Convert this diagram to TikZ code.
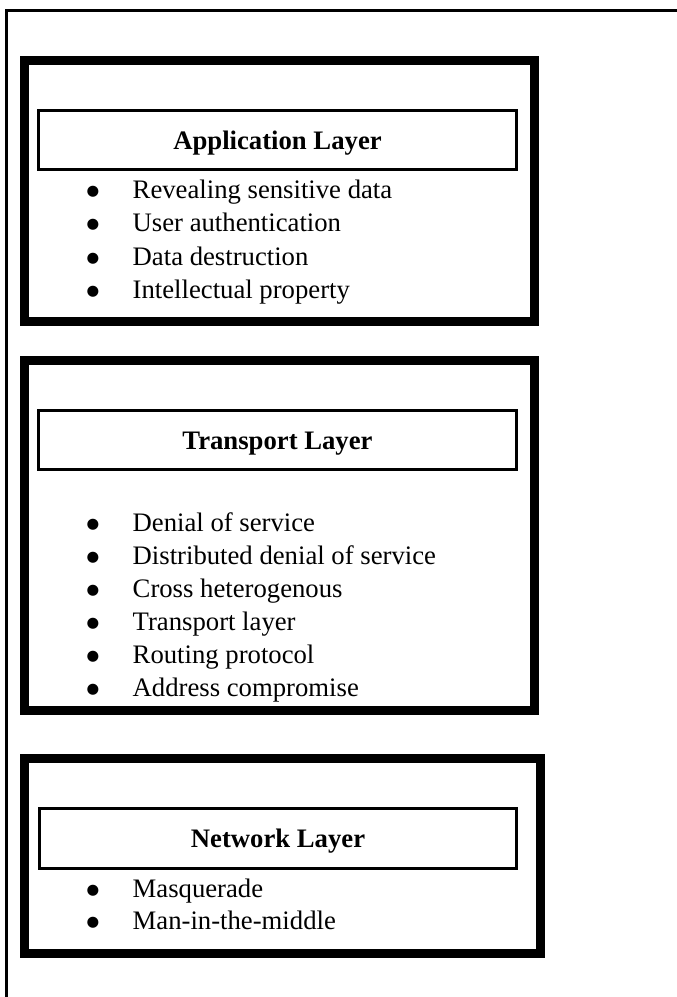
\documentclass[tikz,border=0pt]{standalone}
\usepackage{fontspec}
\setmainfont{Liberation Serif}
\newfontfamily\dotfont{DejaVu Sans}
\newcommand{\bodysize}{\fontsize{26.7}{33}\selectfont}
\newcommand{\bul}[1]{\makebox[46pt][l]{\dotfont\fontsize{14.5}{14.5}\selectfont\raisebox{3pt}{●}}#1}
\tikzstyle{layer} = [draw, line width=9pt, inner sep=0pt]
\tikzstyle{heading} = [draw, line width=3pt, inner sep=0pt, text height=18.5pt, text depth=0pt,
                       font=\bodysize\bfseries]
\tikzstyle{item} = [anchor=base west, inner sep=0pt, font=\bodysize]

\begin{document}
\begin{tikzpicture}[x=1pt, y=-1pt]
    \useasboundingbox (0,0) rectangle (677,997);
    % page frame, runs off the right and bottom edges
    \draw[line width=3pt] (6.5,997) -- (6.5,10.5) -- (677,10.5);

    % application layer
    \node[layer, minimum width=510, minimum height=261] (app) at (279.5,191) {};
    \node[heading, minimum width=478, minimum height=59] (apphead) at (277.5,140) {Application Layer};
    \node[item] (app1) at (86.5,198) {\bul{Revealing sensitive data}};
    \node[item] (app2) at (86.5,231) {\bul{User authentication}};
    \node[item] (app3) at (86.5,265) {\bul{Data destruction}};
    \node[item] (app4) at (86.5,298) {\bul{Intellectual property}};

    % transport layer
    \node[layer, minimum width=510, minimum height=350] (trans) at (279.5,535.5) {};
    \node[heading, minimum width=478, minimum height=59] (transhead) at (277.5,440) {Transport Layer};
    \node[item] (trans1) at (86.5,531) {\bul{Denial of service}};
    \node[item] (trans2) at (86.5,564) {\bul{Distributed denial of service}};
    \node[item] (trans3) at (86.5,597) {\bul{Cross heterogenous}};
    \node[item] (trans4) at (86.5,630) {\bul{Transport layer}};
    \node[item] (trans5) at (86.5,663) {\bul{Routing protocol}};
    \node[item] (trans6) at (86.5,696) {\bul{Address compromise}};

    % network layer
    \node[layer, minimum width=516, minimum height=195] (net) at (282.5,856) {};
    \node[heading, minimum width=477, minimum height=60] (nethead) at (278,838.5) {Network Layer};
    \node[item] (net1) at (86.5,897) {\bul{Masquerade}};
    \node[item] (net2) at (86.5,929) {\bul{Man-in-the-middle}};
\end{tikzpicture}
\end{document}
